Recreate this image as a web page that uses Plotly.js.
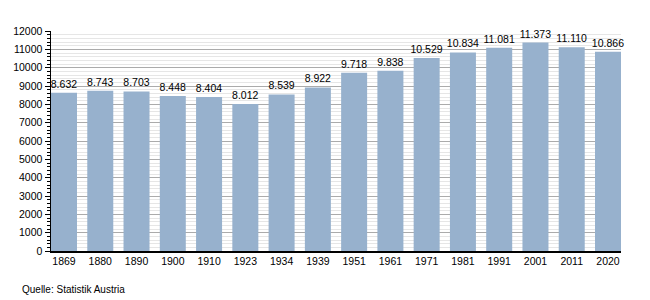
<!DOCTYPE html>
<html>
<head>
<meta charset="utf-8">
<script src="https://cdn.plot.ly/plotly-3.0.1.min.js"></script>
<style>html,body{margin:0;padding:0;background:#fff;}#chart{width:650px;height:300px;}</style>
</head>
<body>
<div id="chart"></div>
<script>
const years = ["1869","1880","1890","1900","1910","1923","1934","1939","1951","1961","1971","1981","1991","2001","2011","2020"];
const population = [8632, 8743, 8703, 8448, 8404, 8012, 8539, 8922, 9718, 9838, 10529, 10834, 11081, 11373, 11110, 10866];
const sourceNote = "Quelle: Statistik Austria";

const fontFam = "Liberation Sans, Arial, sans-serif";
const trace = {
  type: "bar",
  x: years,
  y: population,
  marker: {color: "#97b1cd", line: {width: 0}},
  texttemplate: "%{y:,}",
  textposition: "outside",
  constraintext: "none",
  textfont: {family: fontFam, size: 10.5, color: "#000"},
  cliponaxis: false,
  hoverinfo: "none"
};
const layout = {
  width: 650, height: 300,
  margin: {l: 51, r: 29, t: 31, b: 49},
  paper_bgcolor: "#fff", plot_bgcolor: "#fff",
  separators: ",.",
  bargap: 0.283,
  showlegend: false,
  font: {family: fontFam, size: 10.5, color: "#000"},
  xaxis: {
    type: "category",
    range: [-0.3585, 15.3585],
    showline: true, linecolor: "#000", linewidth: 1.5,
    ticks: "", showgrid: false, zeroline: false,
    tickfont: {family: fontFam, size: 10.5, color: "#000"}
  },
  yaxis: {
    range: [0, 12000],
    dtick: 1000, tickformat: "d",
    showline: true, linecolor: "#000", linewidth: 1.5,
    ticks: "outside", ticklen: 5, tickcolor: "#000", tickwidth: 1,
    showgrid: true, gridcolor: "#ababab", gridwidth: 1,
    zeroline: false,
    minor: {dtick: 200, showgrid: true, gridcolor: "#e6e6e6", gridwidth: 1, ticks: "outside", ticklen: 3, tickcolor: "#000"},
    tickfont: {family: fontFam, size: 10.5, color: "#000"}
  },
  annotations: [{
    text: sourceNote, xref: "paper", yref: "paper",
    x: -31/570, y: -38/220, xanchor: "left", yanchor: "middle",
    showarrow: false,
    font: {family: fontFam, size: 10, color: "#000"}
  }]
};
Plotly.newPlot("chart", [trace], layout, {displayModeBar: false, staticPlot: true});
</script>
</body>
</html>
